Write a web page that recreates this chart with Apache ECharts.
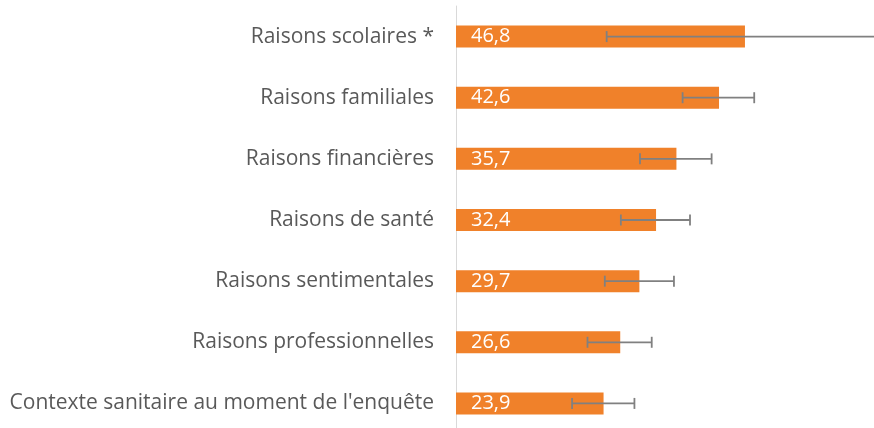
<!DOCTYPE html>
<html>
<head>
<meta charset="utf-8">
<script src="https://cdn.jsdelivr.net/npm/echarts@6/dist/echarts.min.js"></script>
<style>
  html, body { margin: 0; padding: 0; background: #fff; }
  #chart { width: 874px; height: 428px; }
</style>
</head>
<body>
<div id="chart"></div>
<script>
const categories = [
  "Raisons scolaires *",
  "Raisons familiales",
  "Raisons financières",
  "Raisons de santé",
  "Raisons sentimentales",
  "Raisons professionnelles",
  "Contexte sanitaire au moment de l'enquête"
];
const values = [46.8, 42.6, 35.7, 32.4, 29.7, 26.6, 23.9];
const errLow = [24.4, 36.7, 29.8, 26.7, 24.1, 21.3, 18.8];
const errHigh = [69.2, 48.3, 41.4, 37.9, 35.3, 31.7, 28.9];

const errData = categories.map((c, i) => [i, errLow[i], errHigh[i]]);

const chart = echarts.init(document.getElementById("chart"));
chart.setOption({
  animation: false,
  grid: {
    left: 456, right: 0, top: 6, height: 428,
    containLabel: false, outerBoundsMode: "none"
  },
  xAxis: {
    type: "value",
    min: 0,
    max: 67.7,
    show: false
  },
  yAxis: {
    type: "category",
    data: categories,
    inverse: true,
    axisLine: { show: true, lineStyle: { color: "#d9d9d9", width: 1 } },
    axisTick: { show: false },
    axisLabel: {
      color: "#595959",
      fontFamily: "Open Sans",
      fontSize: 21,
      margin: 22
    }
  },
  series: [
    {
      type: "bar",
      data: values,
      barWidth: 22,
      itemStyle: { color: "#F0812A" },
      label: {
        show: true,
        position: "insideLeft",
        distance: 15,
        color: "#fff",
        fontFamily: "Open Sans",
        fontSize: 20,
        formatter: p => String(p.value).replace(".", ",")
      }
    },
    {
      type: "custom",
      data: errData,
      encode: { x: [1, 2], y: 0 },
      clip: false,
      z: 10,
      renderItem: function (params, api) {
        const idx = api.value(0);
        const lo = api.coord([api.value(1), idx]);
        const hi = api.coord([api.value(2), idx]);
        const h = 5.5;
        const style = { stroke: "#808080", lineWidth: 1.8 };
        return {
          type: "group",
          children: [
            { type: "line", shape: { x1: lo[0], y1: lo[1], x2: hi[0], y2: hi[1] }, style: style },
            { type: "line", shape: { x1: lo[0], y1: lo[1] - h, x2: lo[0], y2: lo[1] + h }, style: style },
            { type: "line", shape: { x1: hi[0], y1: hi[1] - h, x2: hi[0], y2: hi[1] + h }, style: style }
          ]
        };
      }
    }
  ]
});
</script>
</body>
</html>
